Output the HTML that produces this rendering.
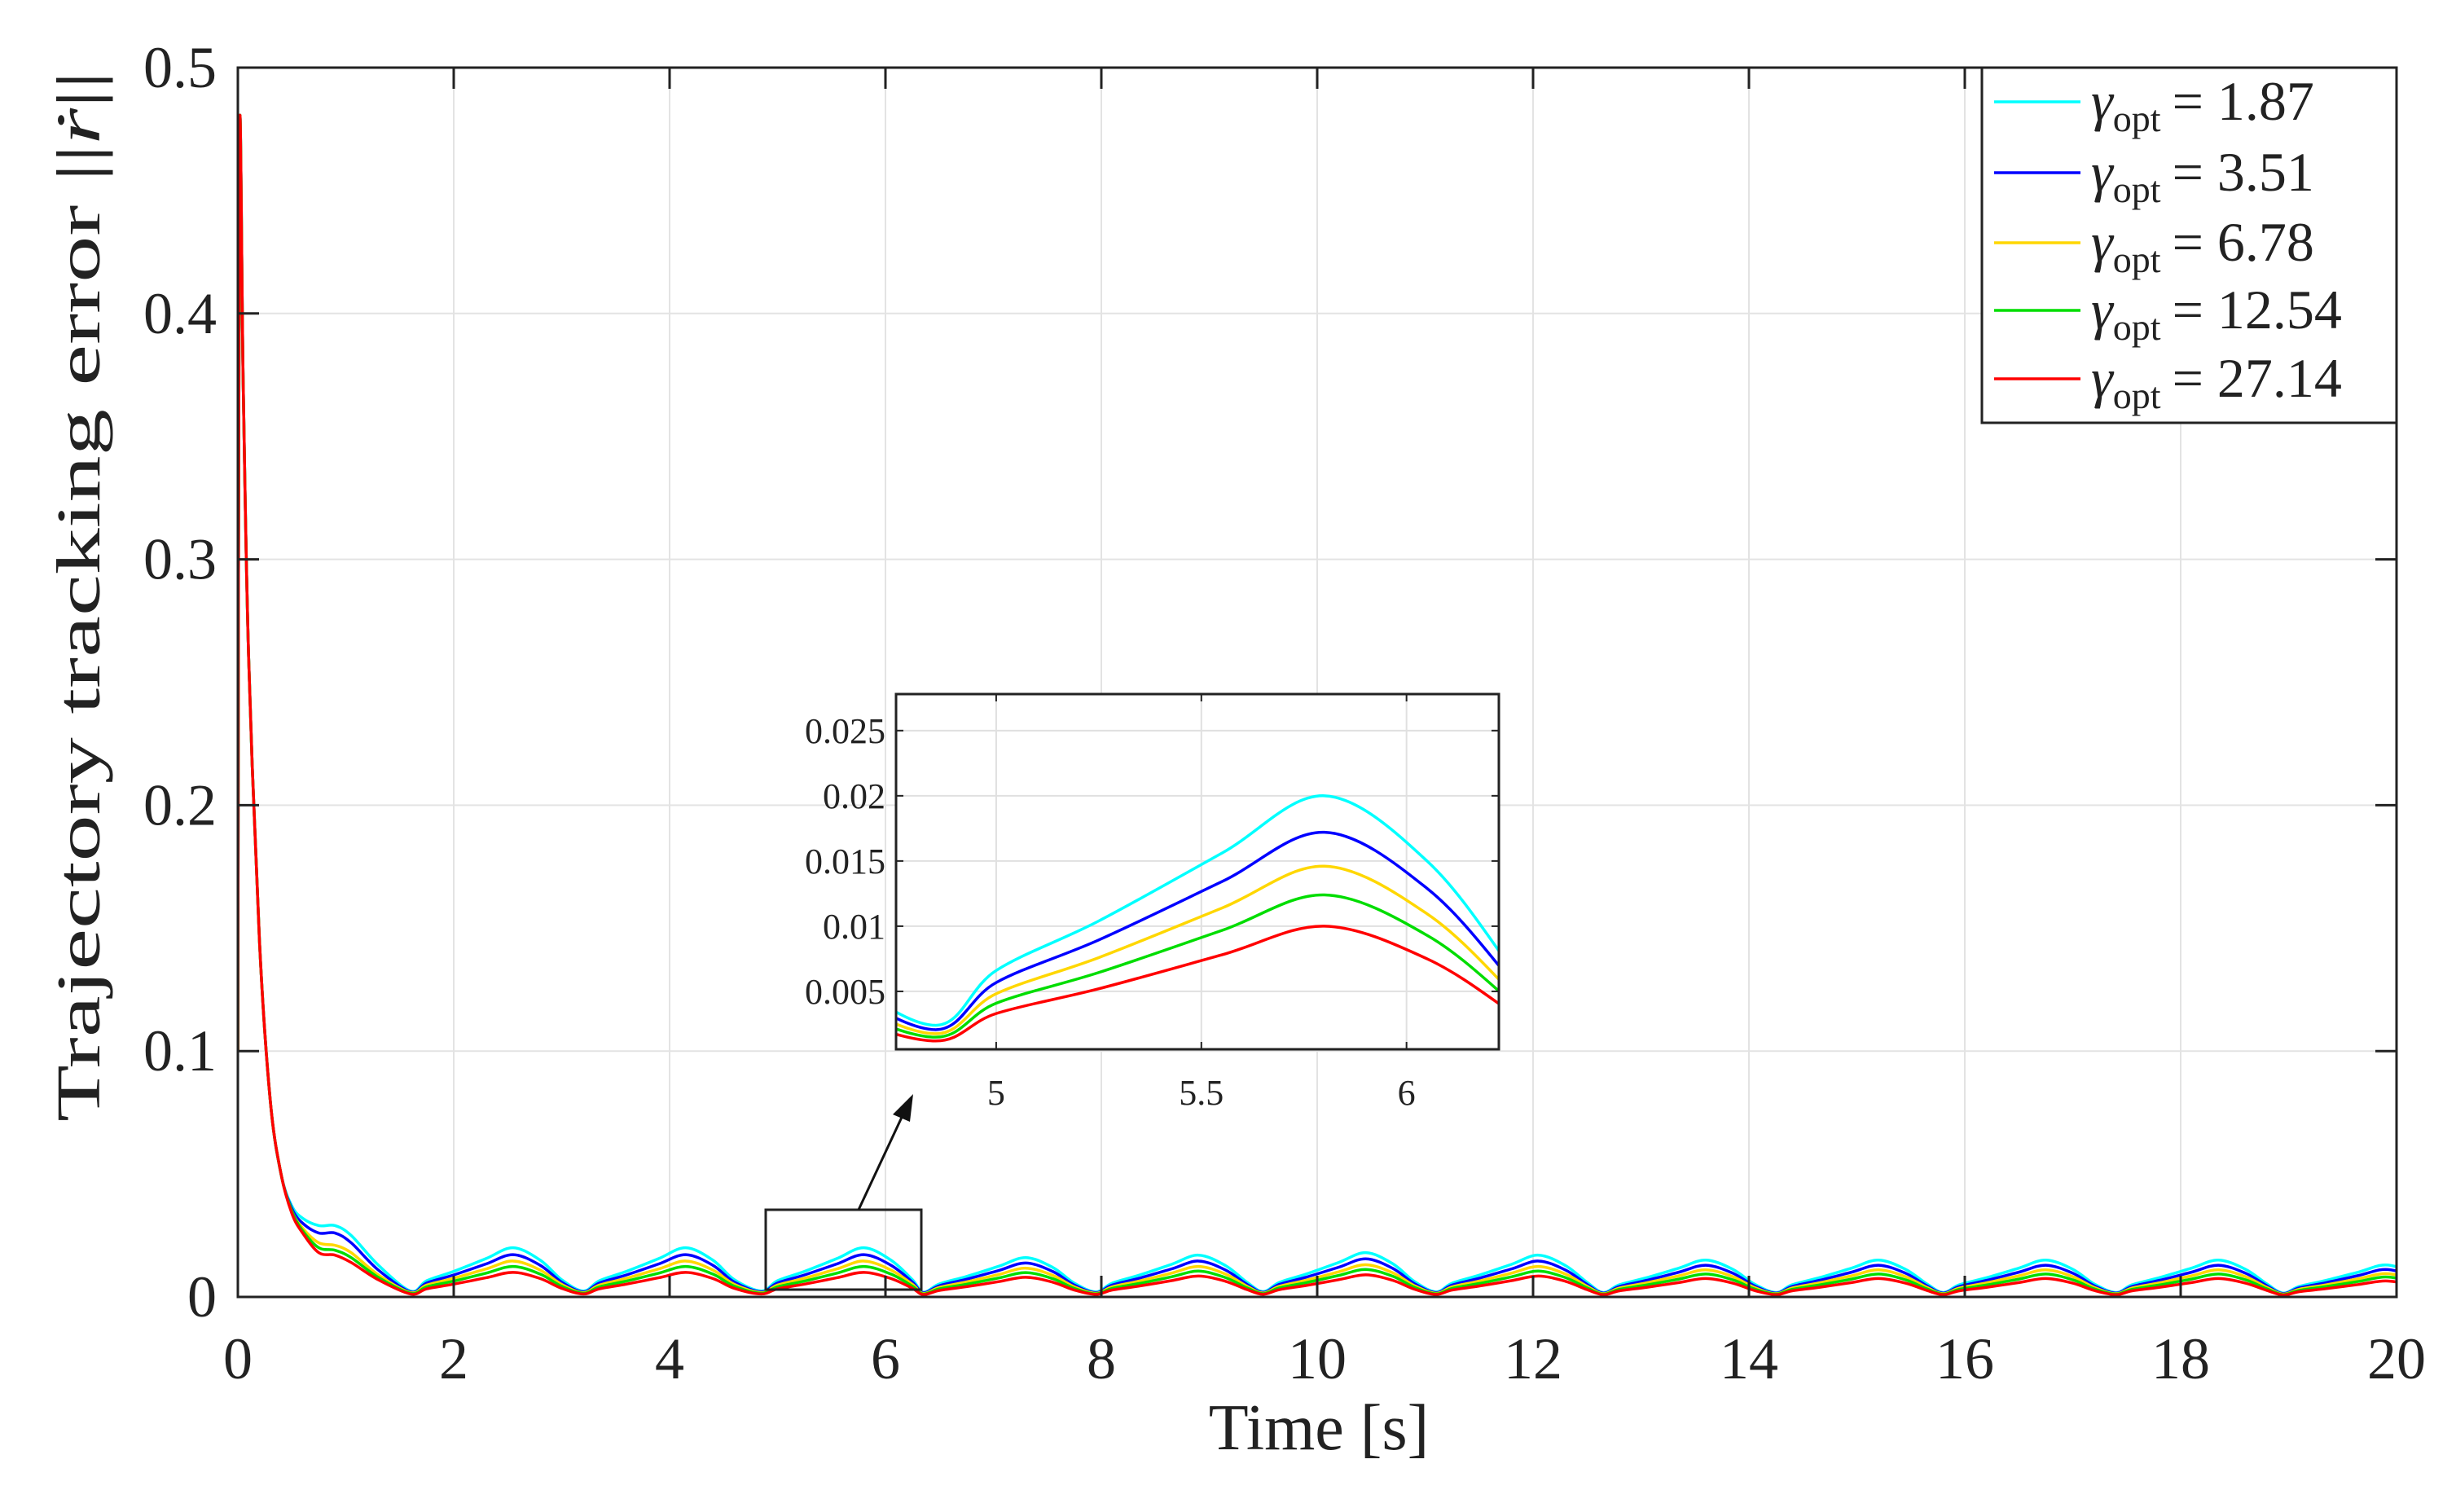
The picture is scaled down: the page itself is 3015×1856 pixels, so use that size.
<!DOCTYPE html>
<html><head><meta charset="utf-8"><style>
html,body{margin:0;padding:0;background:#fff;}
svg{display:block;font-family:"Liberation Serif",serif;}
</style></head><body>
<svg id="chart" width="3015" height="1856" viewBox="0 0 3015 1856" xmlns="http://www.w3.org/2000/svg">
<defs>
<clipPath id="mainClip"><rect x="292" y="83" width="2650" height="1509"/></clipPath>
<clipPath id="insetClip"><rect x="1100" y="852" width="740" height="436"/></clipPath>
</defs>
<rect x="0" y="0" width="3015" height="1856" fill="#fff"/>
<g id="main-grid"></g>
<g id="main-series" clip-path="url(#mainClip)"></g>
<g id="main-axes"></g>
<text transform="translate(122,732) rotate(-90)" text-anchor="middle" font-size="76" fill="#222" textLength="1290" lengthAdjust="spacingAndGlyphs">Trajectory tracking error ||<tspan font-style="italic">ṙ</tspan>||</text>
<text x="1619" y="1779" text-anchor="middle" font-size="80" fill="#222">Time [s]</text>
<rect x="940" y="1485" width="191" height="98" fill="none" stroke="#222" stroke-width="3"/>
<line x1="1054" y1="1485" x2="1110" y2="1365" stroke="#111" stroke-width="3"/>
<polygon points="1121,1343 1096,1368 1117,1377" fill="#111"/>
<g id="inset">
<rect x="1100" y="852" width="740" height="436" fill="#fff"/>
<g id="inset-grid"></g>
<g id="inset-series" clip-path="url(#insetClip)"></g>
<g id="inset-axes"></g>
</g>
<g id="legend">
<rect x="2433" y="83" width="509" height="436" fill="#fff" stroke="#222" stroke-width="3"/>
</g>
</svg>
<script>
// ---- data ----
const seriesNames = ["1.87","3.51","6.78","12.54","27.14"];
const seriesColors = ["#00ffff","#0000ff","#ffd700","#00dd00","#ff0000"];
const transientTimes = [0,0.015,0.05,0.1,0.2,0.3,0.4,0.5,0.6,0.75,0.9,1.05,1.3];
const transientCyan   = [0.1,0.47,0.37,0.26,0.145,0.08,0.05,0.037,0.032,0.029,0.029,0.025,0.013];
const transientBlue   = [0.1,0.47,0.37,0.26,0.145,0.08,0.05,0.036,0.030,0.026,0.026,0.022,0.011];
const transientYellow = [0.1,0.47,0.37,0.26,0.145,0.08,0.05,0.035,0.028,0.022,0.021,0.018,0.009];
const transientGreen  = [0.1,0.47,0.37,0.26,0.145,0.08,0.05,0.035,0.027,0.020,0.019,0.016,0.008];
const transientRed    = [0.1,0.47,0.37,0.26,0.145,0.08,0.05,0.034,0.026,0.018,0.017,0.014,0.007];
const cycleDips = [1.6,3.2,4.85,6.35,7.95,9.5,11.1,12.65,14.25,15.8,17.4,18.95,20.5];
const peaksCyan   = [0.020,0.020,0.020,0.016,0.017,0.018,0.017,0.015,0.015,0.015,0.015,0.013];
const peaksBlue   = [0.0172,0.0172,0.0172,0.0138,0.0146,0.0155,0.0146,0.0129,0.0129,0.0129,0.0129,0.0112];
const peaksYellow = [0.0146,0.0146,0.0146,0.0117,0.0124,0.0131,0.0124,0.011,0.011,0.011,0.011,0.0095];
const peaksGreen  = [0.0124,0.0124,0.0124,0.0099,0.0105,0.0112,0.0105,0.0093,0.0093,0.0093,0.0093,0.0081];
const peaksRed    = [0.010,0.010,0.010,0.008,0.0085,0.009,0.0085,0.0075,0.0075,0.0075,0.0075,0.0065];
const cycleOffsets   = [0,0.15,0.4,0.7,0.95,1.2,1.4];
const cycleFractions = [0.12,0.33,0.52,0.78,1.0,0.75,0.35];
const xTicks = [0,2,4,6,8,10,12,14,16,18,20];
const yTicks = [0,0.1,0.2,0.3,0.4,0.5];
const yTickLabels = ["0","0.1","0.2","0.3","0.4","0.5"];
const insetXTicks = [5,5.5,6];
const insetXTickLabels = ["5","5.5","6"];
const insetYTicks = [0.005,0.01,0.015,0.02,0.025];
const insetYTickLabels = ["0.005","0.01","0.015","0.02","0.025"];

const transients = [transientCyan,transientBlue,transientYellow,transientGreen,transientRed];
const peaks = [peaksCyan,peaksBlue,peaksYellow,peaksGreen,peaksRed];

// ---- scales ----
const M = {x0:292,x1:2942,y0:83,y1:1592,xmin:0,xmax:20,ymin:0,ymax:0.5};
const I = {x0:1100,x1:1840,y0:852,y1:1288,xmin:4.756,xmax:6.225,ymin:0.00056,ymax:0.0278};
function sx(a,v){return a.x0+(v-a.xmin)/(a.xmax-a.xmin)*(a.x1-a.x0);}
function sy(a,v){return a.y1-(v-a.ymin)/(a.ymax-a.ymin)*(a.y1-a.y0);}
const NS="http://www.w3.org/2000/svg";
function mk(tag,attrs,parent){const e=document.createElementNS(NS,tag);for(const k in attrs)e.setAttribute(k,attrs[k]);parent.appendChild(e);return e;}

function buildPoints(s){
  const pts=[];
  for(let i=0;i<transientTimes.length;i++)pts.push([transientTimes[i],transients[s][i]]);
  for(let c=0;c<peaks[s].length;c++){
    for(let j=0;j<cycleOffsets.length;j++)pts.push([cycleDips[c]+cycleOffsets[j],peaks[s][c]*cycleFractions[j]]);
  }
  const last=peaks[s][peaks[s].length-1];
  pts.push([cycleDips[cycleDips.length-1],last*cycleFractions[0]]);
  return pts;
}
function pathFor(a,pts){
  const P=pts.map(p=>[sx(a,p[0]),sy(a,p[1])]);
  let d="M"+P[0][0].toFixed(2)+","+P[0][1].toFixed(2);
  for(let i=0;i<P.length-1;i++){
    const p0=P[i-1]||P[i],p1=P[i],p2=P[i+1],p3=P[i+2]||P[i+1];
    let t=6;
    const c1=[p1[0]+(p2[0]-p0[0])/t,p1[1]+(p2[1]-p0[1])/t];
    const c2=[p2[0]-(p3[0]-p1[0])/t,p2[1]-(p3[1]-p1[1])/t];
    c1[0]=Math.min(Math.max(c1[0],p1[0]),p2[0]);c2[0]=Math.min(Math.max(c2[0],p1[0]),p2[0]);
    d+="C"+c1[0].toFixed(2)+","+c1[1].toFixed(2)+" "+c2[0].toFixed(2)+","+c2[1].toFixed(2)+" "+p2[0].toFixed(2)+","+p2[1].toFixed(2);
  }
  return d;
}

// ---- main grid & axes ----
const mg=document.getElementById("main-grid"), ma=document.getElementById("main-axes");
xTicks.forEach(v=>{const x=sx(M,v);
  const g=mk("line",{x1:x,y1:M.y0,x2:x,y2:M.y1,stroke:"#e3e3e3","stroke-width":2},mg);
  
  
  mk("line",{x1:x,y1:M.y1,x2:x,y2:M.y1-26,stroke:"#222","stroke-width":3},ma);
  mk("line",{x1:x,y1:M.y0,x2:x,y2:M.y0+26,stroke:"#222","stroke-width":3},ma);
  const t=mk("text",{x:x,y:1692,"text-anchor":"middle","font-size":72,fill:"#222"},ma);
  
  
  t.textContent=String(v);
});
yTicks.forEach((v,i)=>{const y=sy(M,v);
  const g=mk("line",{x1:M.x0,y1:y,x2:M.x1,y2:y,stroke:"#e3e3e3","stroke-width":2},mg);
  
  
  mk("line",{x1:M.x0,y1:y,x2:M.x0+26,y2:y,stroke:"#222","stroke-width":3},ma);
  mk("line",{x1:M.x1,y1:y,x2:M.x1-26,y2:y,stroke:"#222","stroke-width":3},ma);
  const t=mk("text",{x:266,y:y+24,"text-anchor":"end","font-size":72,fill:"#222"},ma);
  
  
  t.textContent=yTickLabels[i];
});
const frame=mk("rect",{x:M.x0,y:M.y0,width:M.x1-M.x0,height:M.y1-M.y0,fill:"none",stroke:"#222","stroke-width":3},ma);



// ---- series ----
const ms=document.getElementById("main-series"), is=document.getElementById("inset-series");
for(let s=0;s<5;s++){
  const pts=buildPoints(s);
  const p=mk("path",{d:pathFor(M,pts),fill:"none",stroke:seriesColors[s],"stroke-width":3.5,"stroke-linejoin":"round"},ms);
  
  
  const q=mk("path",{d:pathFor(I,pts),fill:"none",stroke:seriesColors[s],"stroke-width":3.5,"stroke-linejoin":"round"},is);
  
  
}

// ---- inset axes ----
const ig=document.getElementById("inset-grid"), ia=document.getElementById("inset-axes");
insetXTicks.forEach((v,i)=>{const x=sx(I,v);
  mk("line",{x1:x,y1:I.y0,x2:x,y2:I.y1,stroke:"#e0e0e0","stroke-width":2},ig);
  mk("line",{x1:x,y1:I.y1,x2:x,y2:I.y1-9,stroke:"#222","stroke-width":2},ia);
  mk("line",{x1:x,y1:I.y0,x2:x,y2:I.y0+9,stroke:"#222","stroke-width":2},ia);
  const t=mk("text",{x:x,y:1356,"text-anchor":"middle","font-size":44,fill:"#222"},ia);
  
  
  t.textContent=insetXTickLabels[i];
});
insetYTicks.forEach((v,i)=>{const y=sy(I,v);
  mk("line",{x1:I.x0,y1:y,x2:I.x1,y2:y,stroke:"#e0e0e0","stroke-width":2},ig);
  mk("line",{x1:I.x0,y1:y,x2:I.x0+9,y2:y,stroke:"#222","stroke-width":2},ia);
  mk("line",{x1:I.x1,y1:y,x2:I.x1-9,y2:y,stroke:"#222","stroke-width":2},ia);
  const t=mk("text",{x:1087,y:y+15,"text-anchor":"end","font-size":44,fill:"#222"},ia);
  
  
  t.textContent=insetYTickLabels[i];
});
mk("rect",{x:I.x0,y:I.y0,width:I.x1-I.x0,height:I.y1-I.y0,fill:"none",stroke:"#222","stroke-width":3},ia);

// ---- legend ----
const lg=document.getElementById("legend");
const legendY=[125,212,298,381,465];
for(let s=0;s<5;s++){
  const y=legendY[s];
  const l=mk("line",{x1:2448,y1:y,x2:2554,y2:y,stroke:seriesColors[s],"stroke-width":3.5},lg);
  
  
  const t=mk("text",{x:2567,y:y+22,"font-size":68,fill:"#222"},lg);
  
  
  const a=mk("tspan",{"font-style":"italic"},t);a.textContent="γ";
  const b=mk("tspan",{"font-size":46,dy:14},t);b.textContent="opt";
  const c=mk("tspan",{dy:-14,dx:14},t);c.textContent="= "+seriesNames[s];
}
</script>
</body></html>
